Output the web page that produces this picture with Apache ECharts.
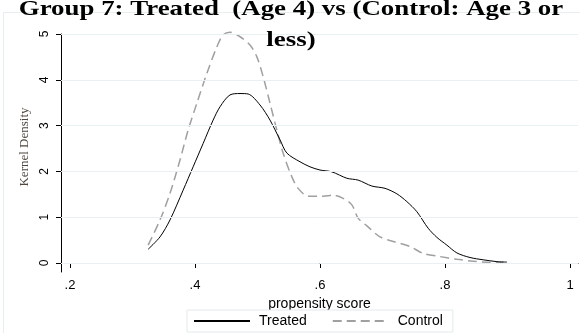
<!DOCTYPE html>
<html>
<head>
<meta charset="utf-8">
<script src="https://cdn.jsdelivr.net/npm/echarts@6/dist/echarts.min.js"></script>
<style>
  html, body { margin: 0; padding: 0; background: #fff; }
  #chart { width: 580px; height: 333px; }
</style>
</head>
<body>
<div id="chart"></div>
<script>
// Kernel density estimates of the propensity score, treated vs control
const treatedX = [0.325, 0.344, 0.36, 0.381, 0.397, 0.413, 0.429, 0.44, 0.456, 0.472, 0.485, 0.504, 0.52, 0.536, 0.547, 0.568, 0.584, 0.6, 0.619, 0.643, 0.661, 0.683, 0.704, 0.723, 0.739, 0.755, 0.773, 0.787, 0.803, 0.819, 0.84, 0.861, 0.883, 0.899];
const treatedY = [0.30, 0.57, 0.94, 1.59, 2.10, 2.61, 3.12, 3.41, 3.67, 3.70, 3.69, 3.45, 3.12, 2.69, 2.40, 2.21, 2.10, 2.03, 1.99, 1.85, 1.81, 1.68, 1.63, 1.51, 1.34, 1.12, 0.76, 0.56, 0.39, 0.22, 0.12, 0.07, 0.03, 0.02];

const controlX = [0.325, 0.344, 0.36, 0.376, 0.389, 0.403, 0.419, 0.435, 0.445, 0.456, 0.472, 0.488, 0.499, 0.509, 0.52, 0.531, 0.541, 0.555, 0.565, 0.581, 0.605, 0.621, 0.637, 0.651, 0.661, 0.675, 0.696, 0.717, 0.744, 0.765, 0.792, 0.819, 0.845, 0.872, 0.893];
const controlY = [0.39, 0.94, 1.52, 2.25, 2.90, 3.49, 4.14, 4.72, 4.98, 5.04, 4.94, 4.76, 4.50, 4.07, 3.49, 2.90, 2.40, 1.88, 1.63, 1.46, 1.46, 1.48, 1.41, 1.27, 0.98, 0.81, 0.57, 0.47, 0.36, 0.21, 0.14, 0.08, 0.04, 0.01, 0.01];

const xTicks = [0.2, 0.4, 0.6, 0.8, 1];
const yTicks = [0, 1, 2, 3, 4, 5];
const seriesNames = ['Treated', 'Control'];
const titleLines = ['Group 7: Treated  (Age 4) vs (Control: Age 3 or', 'less)'];

const zip = (xs, ys) => xs.map((x, i) => [x, ys[i]]);
const fmtX = v => {
  const s = String(Math.round(v * 10) / 10);
  return s.startsWith('0.') ? s.slice(1) : s;
};

const chart = echarts.init(document.getElementById('chart'), null, { renderer: 'canvas' });

const sans = 'Liberation Sans, Arial, sans-serif';
const serif = 'Liberation Serif, Times New Roman, serif';

// wide bold title, two centred lines
const titleGraphics = titleLines.map((t, i) => ({
  type: 'text',
  x: 291,
  y: 10 + i * 31,
  scaleX: 1.28,
  z: 10,
  style: {
    text: t,
    align: 'center',
    verticalAlign: 'middle',
    fontFamily: serif,
    fontWeight: 'bold',
    fontSize: 21,
    fill: '#000'
  }
}));

chart.setOption({
  animation: false,
  backgroundColor: '#ffffff',
  graphic: [{
    type: 'rect',
    shape: { x: 3.5, y: 12.5, width: 590, height: 340 },
    style: { fill: 'none', stroke: '#e6eef0', lineWidth: 1 },
    z: -1
  }].concat(titleGraphics),
  legend: {
    data: seriesNames,
    left: 187,
    top: 310,
    padding: [4, 10, 4, 6],
    itemWidth: 56,
    itemHeight: 14,
    itemGap: 25,
    borderColor: '#e2eaec',
    borderWidth: 1,
    backgroundColor: '#fff',
    itemStyle: { opacity: 0 },
    textStyle: { fontFamily: sans, fontSize: 14, color: '#000', padding: [0, 0, 0, 4] }
  },
  grid: { left: 61, right: 2, top: 34, bottom: 61 },
  xAxis: {
    type: 'value',
    min: 0.2 - 9 / 625,
    max: 1 + 8 / 625,
    name: 'propensity score',
    nameLocation: 'middle',
    nameGap: 20,
    nameTextStyle: { fontFamily: sans, fontSize: 14, color: '#000' },
    axisLine: { show: true, lineStyle: { color: '#000', width: 1 } },
    axisTick: { show: true, customValues: xTicks, length: 5, lineStyle: { color: '#000' } },
    axisLabel: { customValues: xTicks, formatter: fmtX, fontFamily: sans, fontSize: 13, color: '#000', margin: 7 },
    splitLine: { show: false }
  },
  yAxis: {
    type: 'value',
    min: -9 / 45.8,
    max: 5,
    name: 'Kernel Density',
    nameLocation: 'middle',
    nameGap: 28,
    nameRotate: 90,
    nameTextStyle: { fontFamily: serif, fontSize: 13, color: '#504840', padding: [0, 0, 0, 12] },
    axisLine: { show: true, lineStyle: { color: '#000', width: 1 } },
    axisTick: { show: true, customValues: yTicks, length: 5, lineStyle: { color: '#000' } },
    axisLabel: { customValues: yTicks, rotate: 90, fontFamily: sans, fontSize: 12, color: '#000', margin: 10 },
    splitLine: { show: false }
  },
  series: [
    {
      name: 'Treated',
      type: 'line',
      data: zip(treatedX, treatedY),
      smooth: 0.3,
      showSymbol: false,
      symbol: 'none',
      clip: false,
      z: 3,
      lineStyle: { color: '#000', width: 1 },
      itemStyle: { color: '#000' },
      markLine: {
        silent: true,
        symbol: 'none',
        label: { show: false },
        lineStyle: { color: '#e8f0f1', width: 1, type: 'solid' },
        data: yTicks.map(v => ({ yAxis: v }))
      }
    },
    {
      name: 'Control',
      type: 'line',
      data: zip(controlX, controlY),
      smooth: 0.3,
      showSymbol: false,
      symbol: 'none',
      clip: false,
      z: 2,
      lineStyle: { color: '#a0a0a0', width: 1.5, type: [9, 5] },
      itemStyle: { color: '#a0a0a0' }
    }
  ]
});
</script>
</body>
</html>
